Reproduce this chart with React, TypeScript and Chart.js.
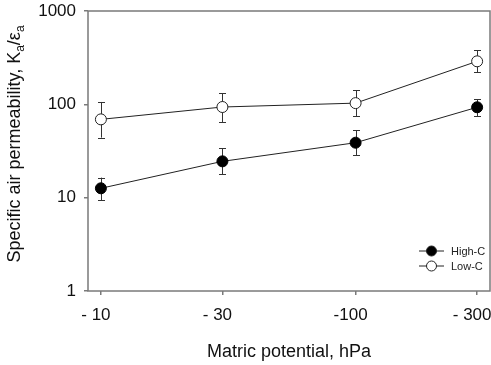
import React, { useEffect, useRef } from "react";
import { Chart, registerables } from "chart.js";

Chart.register(...registerables);

// Matric potential (|hPa|) and tick labels
const potentials = [10, 30, 100, 300];
const potentialLabels = ["- 10", "- 30", "-100", "- 300"];
const yTicks = [1, 10, 100, 1000];

// Specific air permeability means and error bar limits
const highC = [12.6, 24.5, 38.8, 93];
const highCUpper = [16.4, 33.8, 52.7, 114];
const highCLower = [9.4, 17.9, 28.4, 75];

const lowC = [69, 93.6, 103, 289];
const lowCUpper = [106, 132, 141, 379];
const lowCLower = [44, 64.7, 75, 220];

const FONT = "'Liberation Sans', Arial, Helvetica, sans-serif";
const AXIS_GREY = "#7a7a7a";

const errorBars = {
  id: "errorBars",
  beforeDatasetsDraw(chart: any) {
    const { ctx } = chart;
    const xs = chart.scales.x;
    const ys = chart.scales.y;
    const sets = [
      [highCUpper, highCLower],
      [lowCUpper, lowCLower],
    ];
    ctx.save();
    ctx.strokeStyle = "#333";
    ctx.lineWidth = 1;
    sets.forEach(([up, lo]) => {
      potentials.forEach((p, i) => {
        const x = Math.round(xs.getPixelForValue(p)) + 0.5;
        const yu = ys.getPixelForValue(up[i]);
        const yl = ys.getPixelForValue(lo[i]);
        ctx.beginPath();
        ctx.moveTo(x, yu);
        ctx.lineTo(x, yl);
        ctx.moveTo(x - 3.5, Math.round(yu) + 0.5);
        ctx.lineTo(x + 3.5, Math.round(yu) + 0.5);
        ctx.moveTo(x - 3.5, Math.round(yl) + 0.5);
        ctx.lineTo(x + 3.5, Math.round(yl) + 0.5);
        ctx.stroke();
      });
    });
    ctx.restore();
  },
};

const frameAndText = {
  id: "frameAndText",
  afterDraw(chart: any) {
    const { ctx, chartArea } = chart;
    const { left, right, top, bottom } = chartArea;
    ctx.save();
    // plot frame
    ctx.strokeStyle = AXIS_GREY;
    ctx.lineWidth = 1.5;
    ctx.strokeRect(left, top, right - left, bottom - top);

    // y axis title with subscripts
    ctx.fillStyle = "#111";
    ctx.textBaseline = "alphabetic";
    const main = `18px ${FONT}`;
    const sub = `12px ${FONT}`;
    const parts: [string, boolean][] = [
      ["Specific air permeability, K", false],
      ["a", true],
      ["/\u03b5", false],
      ["a", true],
    ];
    let total = 0;
    parts.forEach(([t, s]) => {
      ctx.font = s ? sub : main;
      total += ctx.measureText(t).width;
    });
    ctx.translate(20, 144);
    ctx.rotate(-Math.PI / 2);
    let cx = -total / 2;
    parts.forEach(([t, s]) => {
      ctx.font = s ? sub : main;
      ctx.fillText(t, cx, s ? 3.5 : 0);
      cx += ctx.measureText(t).width;
    });
    ctx.setTransform(1, 0, 0, 1, 0, 0);

    // x axis title
    ctx.font = main;
    ctx.textAlign = "center";
    ctx.textBaseline = "middle";
    ctx.fillText("Matric potential, hPa", (left + right) / 2, 352);

    // legend
    const entries = [
      { label: "High-C", fill: "#000", y: 251 },
      { label: "Low-C", fill: "#fff", y: 266 },
    ];
    ctx.textAlign = "left";
    ctx.font = `11px ${FONT}`;
    entries.forEach((e) => {
      ctx.strokeStyle = "#222";
      ctx.lineWidth = 1;
      ctx.beginPath();
      ctx.moveTo(419, e.y);
      ctx.lineTo(444, e.y);
      ctx.stroke();
      ctx.beginPath();
      ctx.arc(431.5, e.y, 5, 0, Math.PI * 2);
      ctx.fillStyle = e.fill;
      ctx.fill();
      ctx.stroke();
      ctx.fillStyle = "#222";
      ctx.fillText(e.label, 451, e.y + 0.5);
    });
    ctx.restore();
  },
};

export default function App() {
  const ref = useRef<HTMLCanvasElement>(null);

  useEffect(() => {
    if (!ref.current) return;
    const chart = new Chart(ref.current, {
      type: "line",
      data: {
        datasets: [
          {
            label: "High-C",
            data: potentials.map((p, i) => ({ x: p, y: highC[i] })),
            borderColor: "#222",
            borderWidth: 1,
            pointRadius: 5.5,
            pointBackgroundColor: "#000",
            pointBorderColor: "#000",
            pointBorderWidth: 1,
          },
          {
            label: "Low-C",
            data: potentials.map((p, i) => ({ x: p, y: lowC[i] })),
            borderColor: "#222",
            borderWidth: 1,
            pointRadius: 5.5,
            pointBackgroundColor: "#fff",
            pointBorderColor: "#222",
            pointBorderWidth: 1,
          },
        ],
      },
      options: {
        animation: false,
        responsive: false,
        devicePixelRatio: 1,
        layout: { autoPadding: false, padding: { left: 0, right: 1, top: 11, bottom: 0 } },
        plugins: {
          legend: { display: false },
          tooltip: { enabled: false },
          title: { display: false },
        },
        scales: {
          x: {
            type: "logarithmic",
            min: 8.9,
            max: 337,
            afterBuildTicks: (s: any) => {
              s.ticks = potentials.map((v) => ({ value: v }));
            },
            afterFit: (s: any) => {
              s.height = 74;
              s.paddingLeft = 0;
              s.paddingRight = 0;
            },
            grid: {
              display: true,
              drawOnChartArea: false,
              drawTicks: true,
              tickLength: 4,
              color: AXIS_GREY,
              lineWidth: 1.5,
            },
            border: { display: false },
            ticks: {
              autoSkip: false,
              maxRotation: 0,
              padding: 10,
              labelOffset: -5,
              color: "#111",
              font: { family: FONT, size: 17 },
              callback: (_v: any, i: number) => potentialLabels[i],
            },
          },
          y: {
            type: "logarithmic",
            min: 1,
            max: 1000,
            afterBuildTicks: (s: any) => {
              s.ticks = yTicks.map((v) => ({ value: v }));
            },
            afterFit: (s: any) => {
              s.width = 88;
              s.paddingTop = 0;
              s.paddingBottom = 0;
            },
            grid: {
              display: true,
              drawOnChartArea: false,
              drawTicks: true,
              tickLength: 4,
              color: AXIS_GREY,
              lineWidth: 1.5,
            },
            border: { display: false },
            ticks: {
              padding: 8,
              color: "#111",
              font: { family: FONT, size: 17 },
              callback: (v: any) => String(v),
            },
          },
        },
      },
      plugins: [errorBars, frameAndText],
    });
    return () => chart.destroy();
  }, []);

  return (
    <div style={{ position: "absolute", left: 0, top: 0, width: 491, height: 365, background: "#fff" }}>
      <canvas ref={ref} width={491} height={365} style={{ display: "block" }} />
    </div>
  );
}
